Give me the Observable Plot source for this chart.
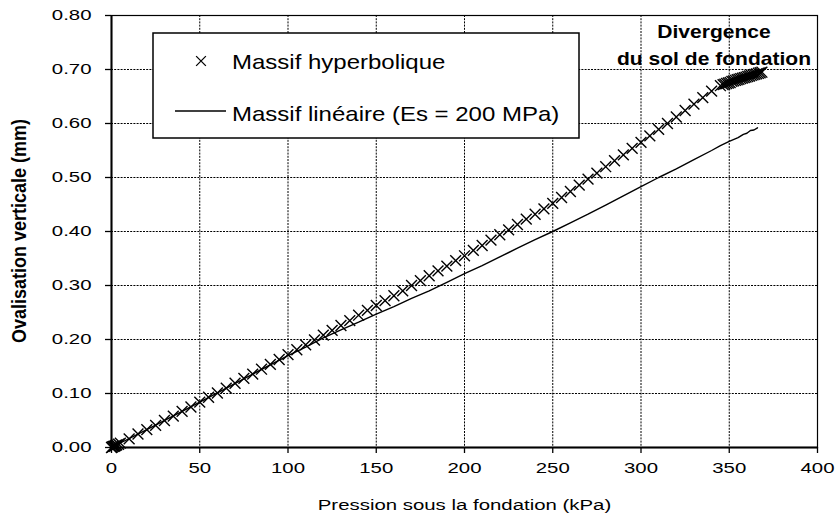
<!DOCTYPE html>
<html><head><meta charset="utf-8">
<script src="https://cdn.jsdelivr.net/npm/d3@7"></script>
<script src="https://cdn.jsdelivr.net/npm/@observablehq/plot@0.6"></script>
<style>
body{margin:0;background:#fff;}
#chart{position:relative;width:835px;height:530px;}
svg{font-family:"Liberation Sans",Arial,sans-serif;}
</style></head><body><div id="chart"></div>
<script>
// Massif hyperbolique (x markers): pressure (kPa), ovalisation (mm)
const hypP = [0,0.5,1,1.5,2,2.5,3,4,
  5,10,15,20,25,30,35,40,45,50,55,60,65,70,75,80,85,90,95,100,
  105,110,115,120,125,130,135,140,145,150,155,160,165,170,175,180,185,190,195,200,
  205,210,215,220,225,230,235,240,245,250,255,260,265,270,275,280,285,290,295,300,
  305,310,315,320,325,330,335,340,345,
  346.5,347.5,348.5,349.5,350.5,351.5,352.5,353.5,354.5,355.5,
  356.5,357.5,358.5,359.5,360.5,361.5,362.5,363.5,364.5,365.5,366.5,367.5,368.5];
const hypV = [0,0.001,0.002,0.002,0.003,0.004,0.005,0.006,
  0.008,0.016,0.025,0.033,0.041,0.050,0.058,0.067,0.075,0.084,0.093,0.101,0.110,0.119,0.128,0.136,0.145,0.154,0.163,0.172,
  0.181,0.190,0.199,0.208,0.217,0.226,0.235,0.245,0.254,0.263,0.272,0.281,0.290,0.300,0.309,0.318,0.327,0.336,0.346,0.355,
  0.365,0.374,0.384,0.394,0.403,0.413,0.423,0.432,0.442,0.452,0.463,0.474,0.486,0.497,0.508,0.520,0.531,0.542,0.554,0.565,
  0.577,0.589,0.600,0.612,0.624,0.636,0.648,0.660,0.670,
  0.672,0.673,0.674,0.675,0.676,0.678,0.679,0.680,0.681,0.682,
  0.683,0.684,0.685,0.686,0.687,0.688,0.689,0.690,0.691,0.692,0.693,0.694,0.695];
// Massif linéaire (Es = 200 MPa): continuous line
const linP = [0,20,40,60,80,100,110,120,130,140,150,160,170,180,190,200,210,220,230,240,250,
  260,270,280,290,300,310,320,330,340,345,350,355,358,360,362,364,366];
const linV = [0,0.033,0.067,0.101,0.136,0.170,0.186,0.203,0.218,0.232,0.247,0.261,0.276,0.290,0.306,0.322,0.337,0.353,0.369,0.385,0.400,
  0.416,0.432,0.449,0.466,0.483,0.500,0.516,0.533,0.550,0.559,0.567,0.574,0.580,0.582,0.587,0.588,0.592];
const xTicks = [0,50,100,150,200,250,300,350,400];
const yTicks = [0,0.1,0.2,0.3,0.4,0.5,0.6,0.7,0.8];
const xTitle = "Pression sous la fondation (kPa)";
const yTitle = "Ovalisation verticale (mm)";
const legendLabels = ["Massif hyperbolique","Massif linéaire (Es = 200 MPa)"];
const noteLines = ["Divergence","du sol de fondation"];

const hyp = hypP.map((p,i)=>({p, v: hypV[i]}));
const lin = linP.map((p,i)=>({p, v: linV[i]}));
const S = 1.36; // horizontal text stretch of the reference
const grid = {stroke:"#000", strokeOpacity:1, strokeWidth:1, strokeDasharray:"2,1.2"};

const plot = Plot.plot({
  width:835, height:530, marginLeft:111, marginRight:18, marginTop:15, marginBottom:83,
  style:{fontFamily:'"Liberation Sans",Arial,sans-serif', fontSize:"15px", background:"white", color:"#000"},
  x:{domain:[0,400]}, y:{domain:[0,0.8]},
  marks:[
    Plot.gridX(xTicks, grid),
    Plot.gridY(yTicks, grid),
    Plot.frame({stroke:"#000", strokeWidth:1.2}),
    Plot.axisX(xTicks, {tickSize:6, tickPadding:9, label:null, tickFormat:d=>String(d), stroke:"#000", strokeWidth:1.3}),
    Plot.axisY(yTicks, {tickSize:6, tickPadding:14, label:null, tickFormat:d3.format(".2f"), stroke:"#000", strokeWidth:1.3}),
    Plot.ruleX([0], {stroke:"#000", strokeWidth:2}),
    Plot.ruleY([0], {stroke:"#000", strokeWidth:2}),
    Plot.line(lin, {x:"p", y:"v", stroke:"#000", strokeWidth:1.4}),
    Plot.dot(hyp, {x:"p", y:"v", symbol:"times", r:5, stroke:"#000", strokeWidth:1.4}),
    Plot.text([xTitle], {frameAnchor:"bottom", dy:62, text:d=>d, fontSize:15})
  ]
});
document.getElementById("chart").appendChild(plot);
const svg = d3.select(plot);

// stretch all Plot texts horizontally around their anchor
svg.selectAll("text").each(function(){
  const t = this;
  const ax = parseFloat(t.getAttribute("x")) || 0;
  const tr = t.getAttribute("transform")||"";
  t.setAttribute("transform", `${tr} translate(${ax},0) scale(${S},1) translate(${-ax},0)`);
});

// y title
svg.append("text")
  .attr("transform", `translate(26,231) rotate(-90) scale(1.2,${S})`)
  .attr("text-anchor","middle").attr("font-weight","bold").attr("font-size",15)
  .attr("fill","#000").text(yTitle);

// annotation (drawn under the legend, over the grid)
[[714,38],[714,65]].forEach(([x,y],i)=>{
  svg.append("text").attr("transform",`translate(${x},${y}) scale(1.17,1)`)
    .attr("text-anchor","middle").attr("font-weight","bold").attr("font-size",18)
    .attr("fill","#000").text(noteLines[i]);
});

// legend
const lg = svg.append("g");
lg.append("rect").attr("x",153).attr("y",33).attr("width",426).attr("height",105)
  .attr("fill","#fff").attr("stroke","#000").attr("stroke-width",1.5);
lg.append("path").attr("transform","translate(201,61)")
  .attr("d", d3.symbol(d3.symbolTimes, 4.5*4.5*Math.PI)()).attr("stroke","#000").attr("stroke-width",1.3).attr("fill","none");
lg.append("line").attr("x1",175).attr("x2",226).attr("y1",111).attr("y2",111).attr("stroke","#000").attr("stroke-width",1.3);
[[232,69],[232,121]].forEach(([x,y],i)=>{
  lg.append("text").attr("transform",`translate(${x},${y}) scale(1.2,1)`)
    .attr("text-anchor","start").attr("font-size",20).attr("fill","#000").text(legendLabels[i]);
});
</script></body></html>
